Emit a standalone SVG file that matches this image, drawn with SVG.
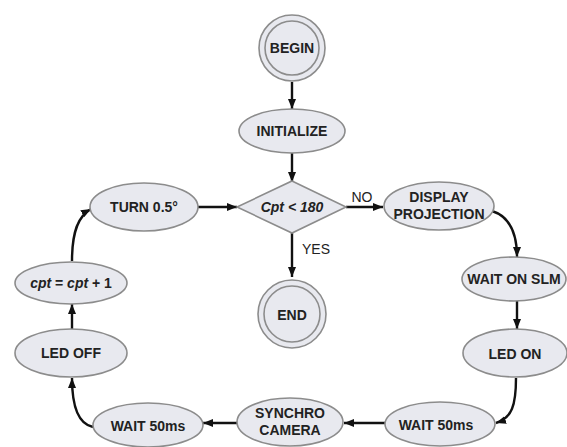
<svg xmlns="http://www.w3.org/2000/svg" width="567" height="447" viewBox="0 0 567 447">
  <defs>
    <marker id="arrow" viewBox="0 0 10 8" refX="10" refY="4" markerWidth="10" markerHeight="8" markerUnits="userSpaceOnUse" orient="auto">
      <path d="M0,0 L10,4 L0,8 Z" fill="#111"/>
    </marker>
    <style>
      .shape { fill: #e8e9ef; stroke: #8c8c8c; stroke-width: 1.6; }
      .label { font-family: "Liberation Sans", Arial, sans-serif; font-size: 14px; font-weight: bold; fill: #222; text-anchor: middle; dominant-baseline: central; }
      .ital { font-style: italic; }
      .edge { fill: none; stroke: #111; stroke-width: 2.4; marker-end: url(#arrow); }
      .tag { font-family: "Liberation Sans", Arial, sans-serif; font-size: 14px; fill: #222; text-anchor: middle; dominant-baseline: central; }
    </style>
  </defs>
  <rect width="567" height="447" fill="#fff"/>

  <g id="connectors">
    <path class="edge" d="M292 82 L292 109"/>
    <path class="edge" d="M292 153 L292 182"/>
    <path class="edge" d="M346 207 L383 207"/>
    <path class="edge" d="M492 211 C508 216 517 230 517 257"/>
    <path class="edge" d="M517 301 L517 329"/>
    <path class="edge" d="M516 378 C516 405 512 418 496 423"/>
    <path class="edge" d="M385 423 L344 423"/>
    <path class="edge" d="M237 423 L203 423"/>
    <path class="edge" d="M93 427 C78 424 72 405 72 378"/>
    <path class="edge" d="M72 329 L72 304"/>
    <path class="edge" d="M72 261 C72 232 78 216 91 209"/>
    <path class="edge" d="M198 207 L237 207"/>
    <path class="edge" d="M292 233 L292 277"/>
    <text class="tag" x="362" y="197">NO</text>
    <text class="tag" x="316" y="249">YES</text>
  </g>

  <g id="begin">
    <circle class="shape" cx="292" cy="48" r="33"/>
    <circle class="shape" cx="292" cy="48" r="27"/>
    <text class="label" x="292" y="48">BEGIN</text>
  </g>

  <g id="initialize">
    <ellipse class="shape" cx="292" cy="131" rx="53" ry="22"/>
    <text class="label" x="292" y="131">INITIALIZE</text>
  </g>

  <g id="test">
    <polygon class="shape" points="292,181 346,207 292,233 237,207"/>
    <text class="label ital" x="292" y="207">Cpt &lt; 180</text>
  </g>

  <g id="end">
    <circle class="shape" cx="292" cy="314" r="34"/>
    <circle class="shape" cx="292" cy="314" r="28"/>
    <text class="label" x="292" y="315">END</text>
  </g>

  <g id="display-projection">
    <ellipse class="shape" cx="439" cy="206" rx="55" ry="24"/>
    <text class="label" x="439" y="197">DISPLAY</text>
    <text class="label" x="439" y="214">PROJECTION</text>
  </g>

  <g id="wait-slm">
    <ellipse class="shape" cx="514" cy="279" rx="52" ry="22"/>
    <text class="label" x="514" y="279">WAIT ON SLM</text>
  </g>

  <g id="led-on">
    <ellipse class="shape" cx="515" cy="353" rx="52" ry="24"/>
    <text class="label" x="515" y="354">LED ON</text>
  </g>

  <g id="wait-50ms-right">
    <ellipse class="shape" cx="440" cy="424" rx="55" ry="22"/>
    <text class="label" x="436" y="425">WAIT 50ms</text>
  </g>

  <g id="synchro-camera">
    <ellipse class="shape" cx="290" cy="422" rx="53" ry="24"/>
    <text class="label" x="290" y="413">SYNCHRO</text>
    <text class="label" x="290" y="430">CAMERA</text>
  </g>

  <g id="wait-50ms-left">
    <ellipse class="shape" cx="148" cy="425" rx="55" ry="22"/>
    <text class="label" x="148" y="426">WAIT 50ms</text>
  </g>

  <g id="led-off">
    <ellipse class="shape" cx="71" cy="353" rx="56" ry="24"/>
    <text class="label" x="71" y="353">LED OFF</text>
  </g>

  <g id="increment">
    <ellipse class="shape" cx="71" cy="283" rx="56" ry="21"/>
    <text class="label" x="71" y="283"><tspan class="ital">cpt</tspan> = <tspan class="ital">cpt</tspan> + 1</text>
  </g>

  <g id="turn">
    <ellipse class="shape" cx="144" cy="207" rx="54" ry="24"/>
    <text class="label" x="144" y="207">TURN 0.5°</text>
  </g>
</svg>
